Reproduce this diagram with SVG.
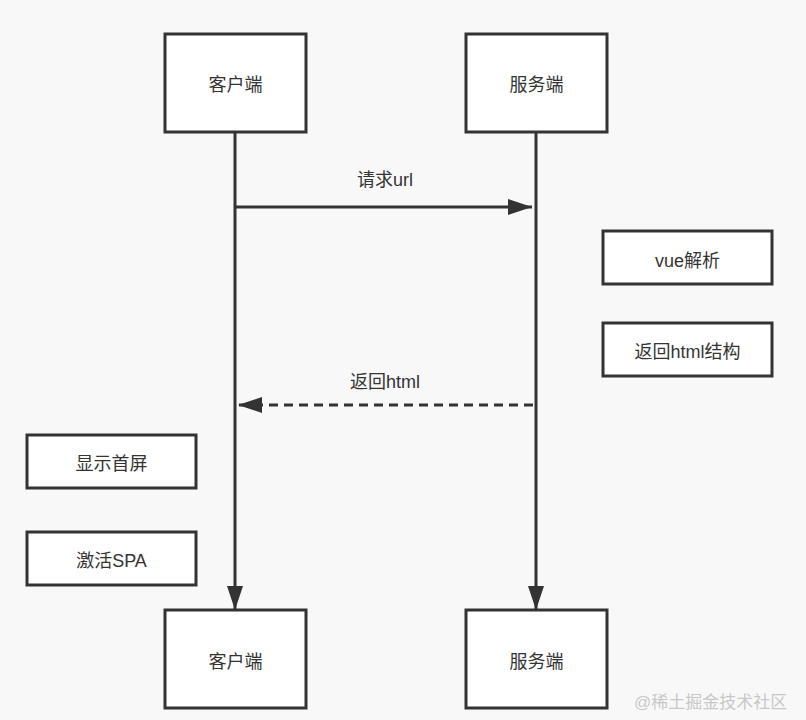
<svg xmlns="http://www.w3.org/2000/svg" width="806" height="720" viewBox="0 0 806 720">
<style>
.box{fill:#ffffff;stroke:#333333;stroke-width:3}
.t{font-family:"Liberation Sans","Noto Sans CJK SC",sans-serif;font-size:18px;fill:#333333;text-anchor:middle;dominant-baseline:central}
.ln{stroke:#333333;stroke-width:3;fill:none}
.wm{font-family:"Liberation Sans","Noto Sans CJK SC",sans-serif;font-size:17px;fill:#c8c8c8}
</style>
<defs>
<marker id="ah" markerUnits="userSpaceOnUse" markerWidth="24" markerHeight="16" refX="24" refY="8" orient="auto">
<path d="M0,0 L24,8 L0,16 Z" fill="#333333"/>
</marker>
</defs>
<rect x="0" y="0" width="806" height="720" fill="#f8f8f8"/>
<g id="connectors">
<line class="ln" x1="235" y1="133" x2="235" y2="610" marker-end="url(#ah)"/>
<line class="ln" x1="536" y1="133" x2="536" y2="610" marker-end="url(#ah)"/>
<line class="ln" x1="235" y1="207" x2="532" y2="207" marker-end="url(#ah)"/>
<line class="ln" x1="533" y1="405" x2="238" y2="405" stroke-dasharray="9,6" marker-end="url(#ah)"/>
<text class="t" x="385" y="180">请求url</text>
<text class="t" x="385" y="382">返回html</text>
</g>
<g id="client-top"><rect class="box" x="165" y="34" width="141" height="98"/><text class="t" x="235.5" y="85">客户端</text></g>
<g id="server-top"><rect class="box" x="466" y="34" width="141" height="98"/><text class="t" x="536.5" y="85">服务端</text></g>
<g id="client-bottom"><rect class="box" x="165" y="610" width="141" height="98"/><text class="t" x="235.5" y="662">客户端</text></g>
<g id="server-bottom"><rect class="box" x="466" y="610" width="141" height="98"/><text class="t" x="536.5" y="662">服务端</text></g>
<g id="vue-parse"><rect class="box" x="603" y="231" width="169" height="53"/><text class="t" x="687.5" y="261">vue解析</text></g>
<g id="return-html"><rect class="box" x="603" y="323" width="169" height="53"/><text class="t" x="687.5" y="352">返回html结构</text></g>
<g id="show-screen"><rect class="box" x="27" y="435" width="169" height="53"/><text class="t" x="111.5" y="464">显示首屏</text></g>
<g id="activate-spa"><rect class="box" x="27" y="532" width="169" height="53"/><text class="t" x="111.5" y="561">激活SPA</text></g>
<text class="wm" x="634" y="708">@稀土掘金技术社区</text>
</svg>
